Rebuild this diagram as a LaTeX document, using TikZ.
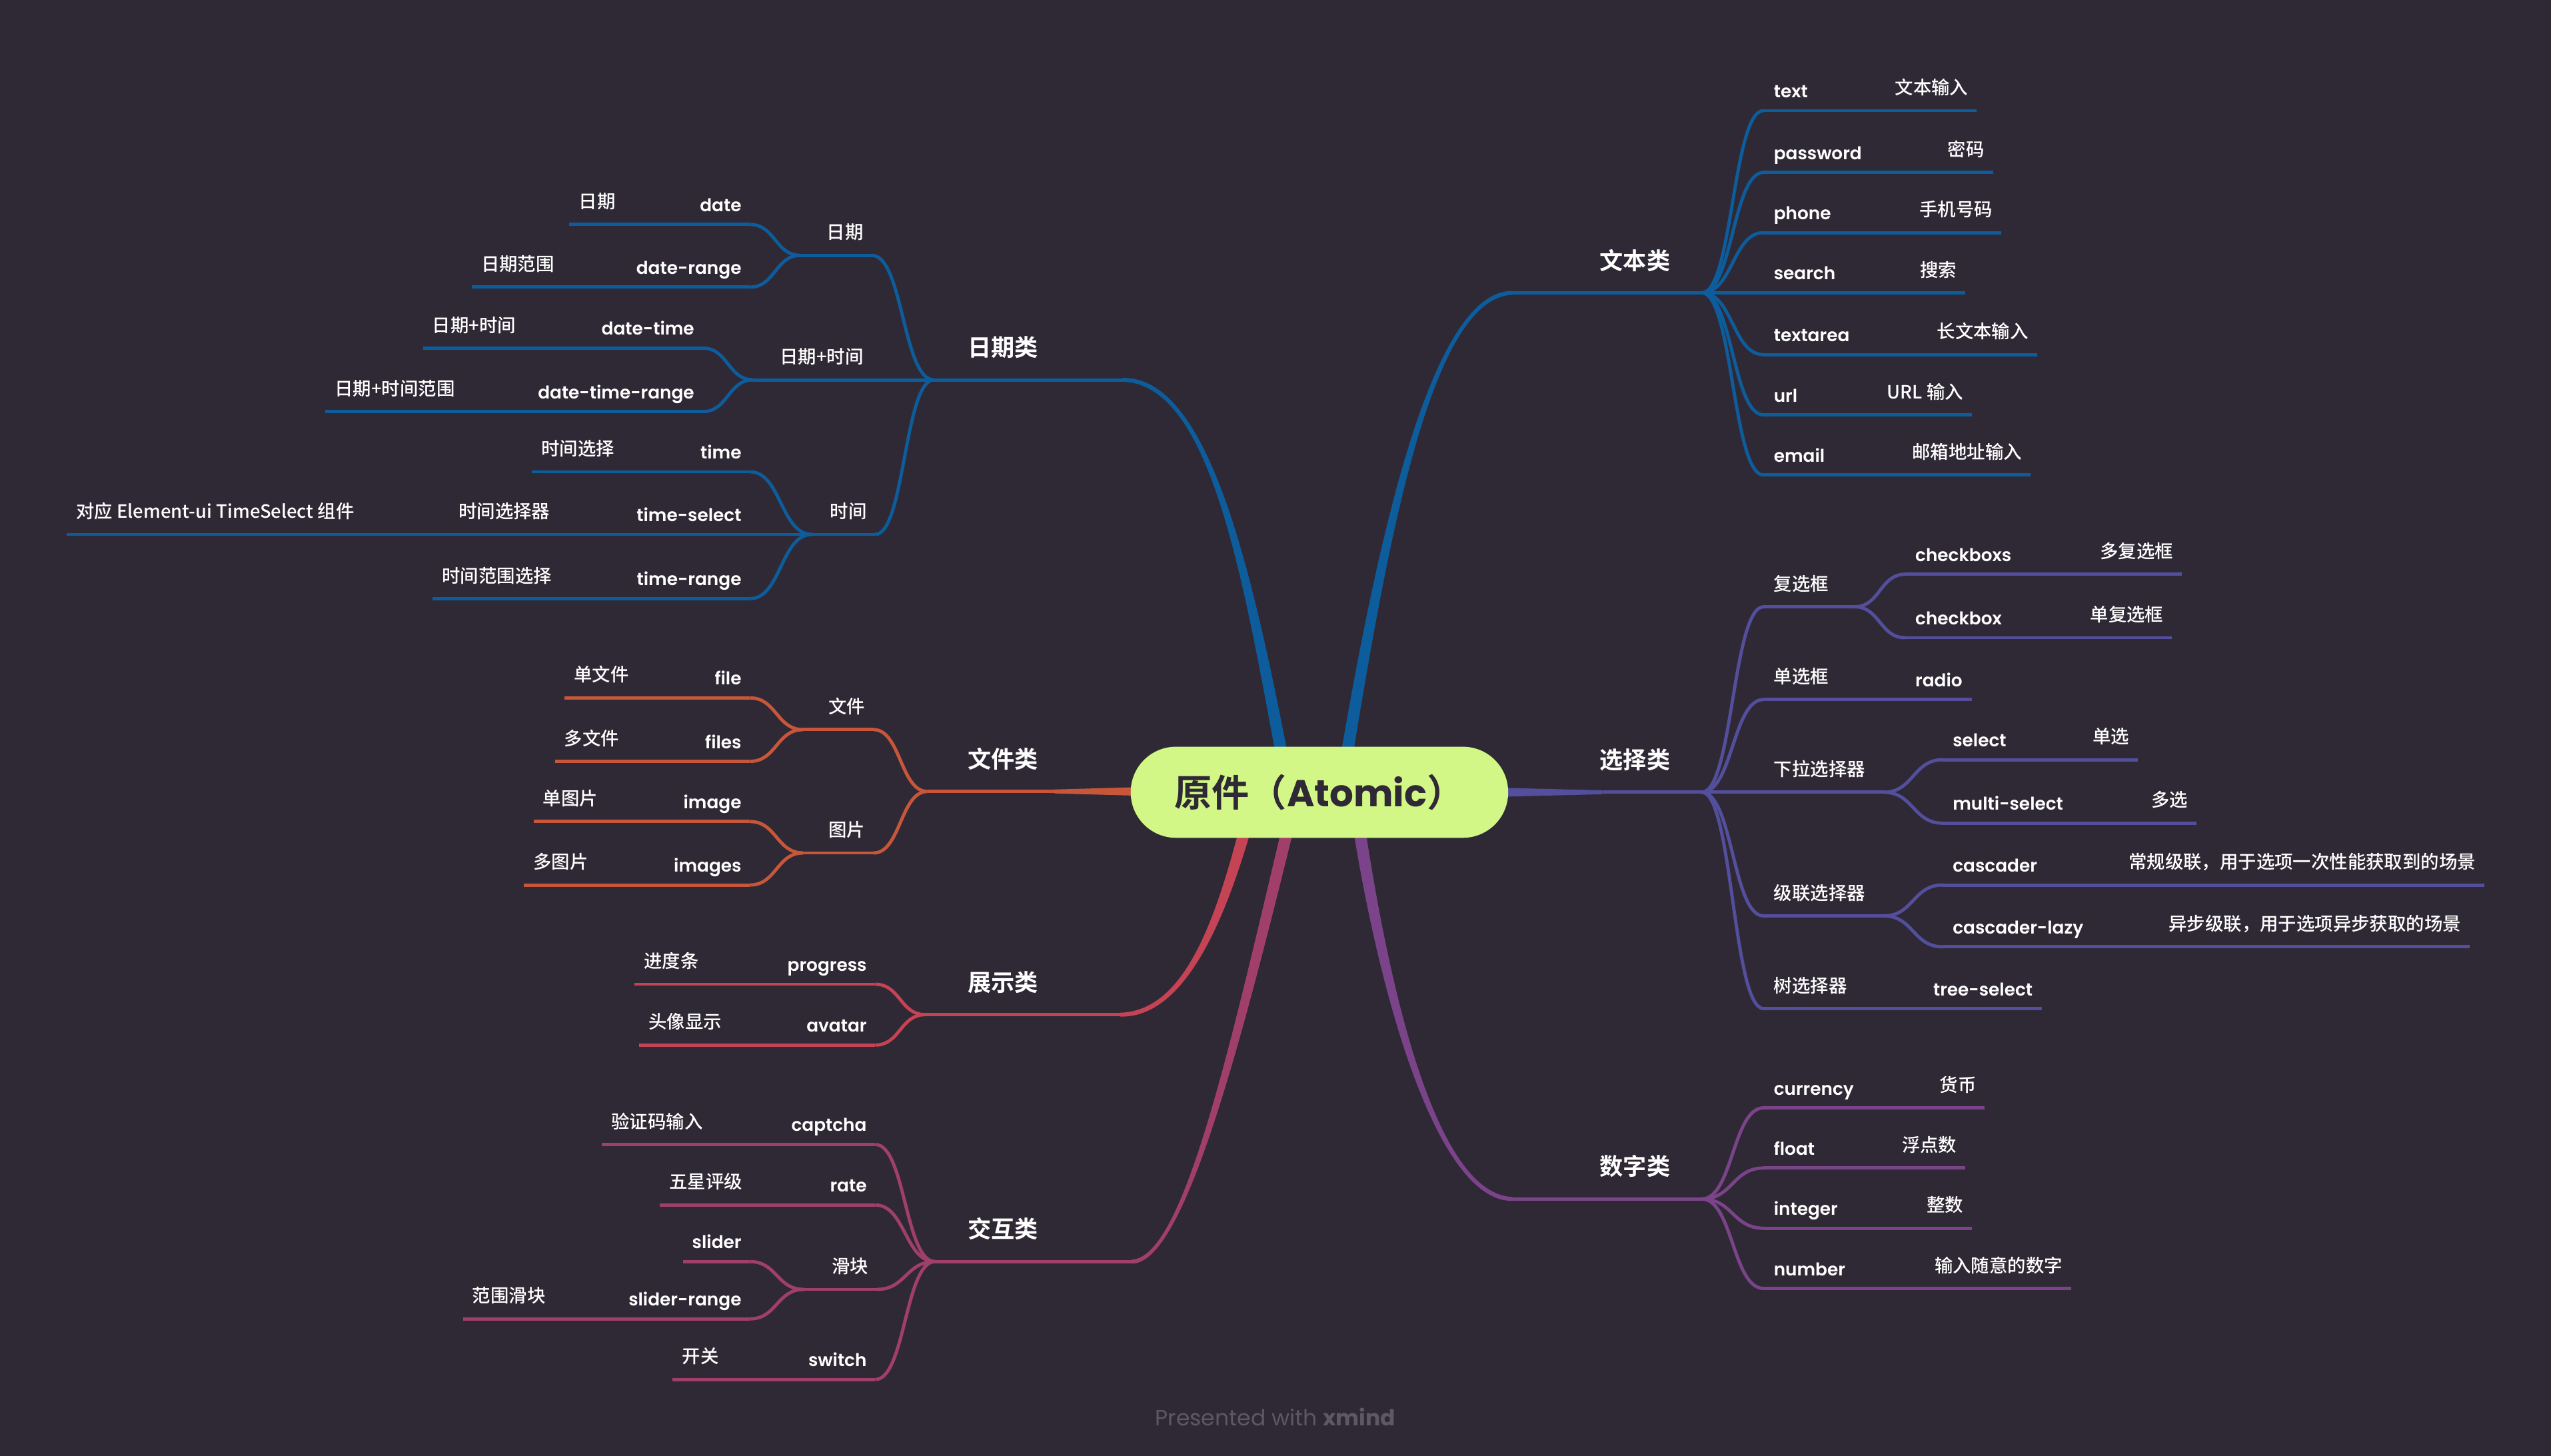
\documentclass[tikz,border=0pt]{standalone}
\usepackage{fontspec}
\usetikzlibrary{calc}

\newfontfamily\cjk{Noto Sans CJK SC Medium}
\newfontfamily\cjkbold{Noto Sans CJK SC Bold}
\newfontfamily\lat{Poppins SemiBold}
\newfontfamily\latreg{Poppins}

\definecolor{bgdark}{HTML}{2F2935}
\definecolor{limefill}{HTML}{D2F787}
\definecolor{footgrey}{HTML}{5D5866}
\definecolor{brBlue}{HTML}{0D5C9B}
\definecolor{brOrange}{HTML}{C8573A}
\definecolor{brRed}{HTML}{C44354}
\definecolor{brMagenta}{HTML}{A03F6A}
\definecolor{brIndigo}{HTML}{534F9D}
\definecolor{brPurple}{HTML}{7B4389}

\tikzstyle{twig}=[line width=1.4pt]
\tikzstyle{itemname}=[
    text=white,
    inner sep=0pt,
    font=\lat\fontsize{7.5}{9}\selectfont,
  ]
\tikzstyle{itemnote}=[
    text=white,
    inner sep=0pt,
    font=\cjk\fontsize{7.8}{9}\selectfont,
  ]
\tikzstyle{catlabel}=[
    text=white,
    inner sep=0pt,
    font=\cjkbold\fontsize{10}{12}\selectfont,
  ]
\tikzstyle{rootnode}=[
    fill=limefill,
    text=bgdark,
    inner sep=0pt,
    minimum width=5.664cm,
    minimum height=1.367cm,
    rounded corners=0.68cm,
    font=\fontsize{16}{19}\selectfont,
  ]

% S-shaped connector
\newcommand{\branchto}[2]{%
  \draw[twig] let \p1=(#1), \p2=(#2) in
    (\p1) .. controls ({(\x1+\x2)/2},\y1) and ({(\x1+\x2)/2},\y2) .. (\p2);}

% tapered main branch: category end, controls, hub, side
\newcommand{\trunk}[5]{%
  \fill ($(#1)+(0,-1.2)$) .. controls ($(#2)+(0,-2.2)$) and ($(#3)+({(#5)*3.3},0)$) .. ($(#4)+({(#5)*3.8},0)$)
    -- ($(#4)+({-(#5)*3.8},0)$) .. controls ($(#3)+({-(#5)*3.3},0)$) and ($(#2)+(0,2.2)$) .. ($(#1)+(0,1.2)$) -- cycle;}

% id, y, x left, x right, parent, label
\newcommand{\leftgroup}[6]{%
  \coordinate (#1-l) at (#3,#2);
  \coordinate (#1-r) at (#4,#2);
  \draw[twig] (#1-l) -- (#1-r);
  \branchto{#1-r}{#5}
  \node[itemnote, anchor=base east] (#1) at ($(#1-r)+(-5,-10)$) {#6};}
\newcommand{\rightgroup}[6]{%
  \coordinate (#1-l) at (#3,#2);
  \coordinate (#1-r) at (#4,#2);
  \branchto{#5}{#1-l}
  \draw[twig] (#1-l) -- (#1-r);
  \node[itemnote, anchor=base west] (#1) at ($(#1-l)+(6,-10)$) {#6};}

% id, y, x left, x right, parent, name, note
\newcommand{\leftleaf}[7]{%
  \coordinate (#1-l) at (#3,#2);
  \coordinate (#1-r) at (#4,#2);
  \draw[twig] (#1-l) -- (#1-r);
  \branchto{#1-r}{#5}
  \node[itemname, anchor=base east] (#1) at ($(#1-r)+(-5,-8)$) {#6};
  \node[itemnote, anchor=base west] (#1-t) at ($(#1-l)+(5.5,-10)$) {#7};}
\newcommand{\rightleaf}[7]{%
  \coordinate (#1-l) at (#3,#2);
  \coordinate (#1-r) at (#4,#2);
  \branchto{#5}{#1-l}
  \draw[twig] (#1-l) -- (#1-r);
  \node[itemname, anchor=base west] (#1) at ($(#1-l)+(6,-8)$) {#6};
  \node[itemnote, anchor=base east] (#1-t) at ($(#1-r)+(-5,-10)$) {#7};}

\begin{document}
\begin{tikzpicture}[x=0.024413cm, y=-0.024413cm]
  \useasboundingbox (0,0) rectangle (1568,895);
  \fill[bgdark] (0,0) rectangle (1568,895);

  % date
  \begin{scope}[brBlue]
    \coordinate (datecat-j) at (574,233.5);
    \coordinate (datecat-c) at (690,233.5);
    \draw[twig] (datecat-j) -- (datecat-c);
    \trunk{datecat-c}{745,233.5}{768,360}{790,475}{1}
    \node[catlabel, anchor=base] (datecat) at (616.5,219) {日期类};
    \leftgroup{ymd}{157}{492}{536}{datecat-j}{日期}
    \leftleaf{date}{138}{350}{461}{ymd-l}{date}{日期}
    \leftleaf{daterange}{176.5}{290}{461}{ymd-l}{date-range}{日期范围}
    \leftgroup{ymdhm}{233.5}{463}{536}{datecat-j}{日期+时间}
    \leftleaf{datetime}{214}{260}{432}{ymdhm-l}{date-time}{日期+时间}
    \leftleaf{datetimerange}{253}{200}{432}{ymdhm-l}{date-time-range}{日期+时间范围}
    \leftgroup{hm}{328.5}{499}{538}{datecat-j}{时间}
    \leftleaf{time}{290}{327}{461}{hm-l}{time}{时间选择}
    \leftleaf{timeselect}{328.5}{41}{461}{hm-l}{time-select}{对应 Element-ui TimeSelect 组件}
    \node[itemnote, anchor=base west] (timeselect-t2) at (281.6,318.5) {时间选择器};
    \leftleaf{timerange}{368}{266}{461}{hm-l}{time-range}{时间范围选择}
  \end{scope}

  % file
  \begin{scope}[brOrange]
    \coordinate (filecat-j) at (570,486.5);
    \coordinate (filecat-c) at (648,486.5);
    \coordinate (hub-file) at (720,486.5);
    \draw[twig] (filecat-j) -- (filecat-c);
    \fill ($(filecat-c)+(0,-1.2)$) -- ($(hub-file)+(0,-3.2)$) -- ($(hub-file)+(0,3.2)$) -- ($(filecat-c)+(0,1.2)$) -- cycle;
    \node[catlabel, anchor=base] (filecat) at (616.5,472) {文件类};
    \leftgroup{fileg}{448.5}{493.6}{537}{filecat-j}{文件}
    \leftleaf{file}{429}{347}{461}{fileg-l}{file}{单文件}
    \leftleaf{files}{468}{341}{461}{fileg-l}{files}{多文件}
    \leftgroup{imageg}{524.3}{493.6}{537}{filecat-j}{图片}
    \leftleaf{image}{505}{328}{461}{imageg-l}{image}{单图片}
    \leftleaf{images}{544}{322}{461}{imageg-l}{images}{多图片}
  \end{scope}

  % display
  \begin{scope}[brRed]
    \coordinate (showcat-j) at (568.6,623.7);
    \coordinate (showcat-c) at (688.5,623.7);
    \draw[twig] (showcat-j) -- (showcat-c);
    \trunk{showcat-c}{730,623.7}{752,560}{768,500}{-1}
    \node[catlabel, anchor=base] (showcat) at (616.5,609.2) {展示类};
    \leftleaf{progress}{605}{390}{538}{showcat-j}{progress}{进度条}
    \leftleaf{avatar}{642.4}{393}{538}{showcat-j}{avatar}{头像显示}
  \end{scope}

  % interaction
  \begin{scope}[brMagenta]
    \coordinate (actcat-j) at (574.7,775.5);
    \coordinate (actcat-c) at (695.5,775.5);
    \draw[twig] (actcat-j) -- (actcat-c);
    \trunk{actcat-c}{728,775.5}{760,640}{795,495}{-1}
    \node[catlabel, anchor=base] (actcat) at (616.5,761) {交互类};
    \leftleaf{captcha}{703.5}{370}{538}{actcat-j}{captcha}{验证码输入}
    \leftleaf{rate}{740.7}{405.6}{538}{actcat-j}{rate}{五星评级}
    \leftgroup{sliderg}{792.6}{494}{539}{actcat-j}{滑块}
    \coordinate (slider-l) at (420,775.5);
    \coordinate (slider-r) at (461,775.5);
    \draw[twig] (slider-l) -- (slider-r);
    \branchto{slider-r}{sliderg-l}
    \node[itemname, anchor=base east] (slider) at ($(slider-r)+(-5,-8)$) {slider};
    \leftleaf{sliderrange}{810.7}{284.6}{461}{sliderg-l}{slider-range}{范围滑块}
    \leftleaf{switch}{848}{413.5}{538}{actcat-j}{switch}{开关}
  \end{scope}

  % text
  \begin{scope}[brBlue]
    \coordinate (textcat-j) at (1046,180);
    \coordinate (textcat-c) at (930,180);
    \draw[twig] (textcat-c) -- (textcat-j);
    \trunk{textcat-c}{880,180}{850,330}{826,475}{-1}
    \node[catlabel, anchor=base] (textcat) at (1005,165.5) {文本类};
    \foreach \id/\ly/\lend/\lname/\lnote in {%
        text/68/1215/text/文本输入,
        password/106/1225/password/密码,
        phone/143/1230/phone/手机号码,
        search/180/1208/search/搜索,
        textarea/218/1252/textarea/长文本输入,
        url/255/1212/url/URL 输入,
        email/292/1248/email/邮箱地址输入} {%
      \rightleaf{\id}{\ly}{1084}{\lend}{textcat-j}{\lname}{\lnote}
    }
  \end{scope}

  % select
  \begin{scope}[brIndigo]
    \coordinate (selcat-j) at (1046,487);
    \coordinate (selcat-c) at (985,487);
    \coordinate (hub-sel) at (905,487);
    \draw[twig] (selcat-c) -- (selcat-j);
    \fill ($(selcat-c)+(0,-1.2)$) -- ($(hub-sel)+(0,-3.2)$) -- ($(hub-sel)+(0,3.2)$) -- ($(selcat-c)+(0,1.2)$) -- cycle;
    \node[catlabel, anchor=base] (selcat) at (1005,472.5) {选择类};
    \rightgroup{checkg}{373}{1084}{1140}{selcat-j}{复选框}
    \rightleaf{checkboxs}{353}{1171}{1341}{checkg-r}{checkboxs}{多复选框}
    \rightleaf{checkbox}{392}{1171}{1335}{checkg-r}{checkbox}{单复选框}
    \rightgroup{radiog}{430}{1084}{1140}{selcat-j}{单选框}
    \coordinate (radio-l) at (1171,430);
    \coordinate (radio-r) at (1212,430);
    \draw[twig] (radiog-r) -- (radio-r);
    \node[itemname, anchor=base west] (radio) at ($(radio-l)+(6,-8)$) {radio};
    \rightgroup{dropg}{487}{1084}{1158}{selcat-j}{下拉选择器}
    \rightleaf{select}{467}{1194}{1314}{dropg-r}{select}{单选}
    \rightleaf{multiselect}{506}{1194}{1350}{dropg-r}{multi-select}{多选}
    \rightgroup{cascg}{563}{1084}{1158}{selcat-j}{级联选择器}
    \rightleaf{cascader}{544}{1194}{1527}{cascg-r}{cascader}{常规级联，用于选项一次性能获取到的场景}
    \rightleaf{cascaderlazy}{582}{1194}{1518}{cascg-r}{cascader-lazy}{异步级联，用于选项异步获取的场景}
    \rightgroup{treeg}{620}{1084}{1150}{selcat-j}{树选择器}
    \coordinate (treeselect-l) at (1182,620);
    \coordinate (treeselect-r) at (1255,620);
    \draw[twig] (treeg-r) -- (treeselect-r);
    \node[itemname, anchor=base west] (treeselect) at ($(treeselect-l)+(6,-8)$) {tree-select};
  \end{scope}

  % number
  \begin{scope}[brPurple]
    \coordinate (numcat-j) at (1046,737);
    \coordinate (numcat-c) at (930,737);
    \draw[twig] (numcat-c) -- (numcat-j);
    \trunk{numcat-c}{885,737}{852,620}{834,500}{1}
    \node[catlabel, anchor=base] (numcat) at (1005,722.5) {数字类};
    \foreach \id/\ly/\lend/\lname/\lnote in {%
        currency/681/1220/currency/货币,
        float/718/1208/float/浮点数,
        integer/755/1212/integer/整数,
        number/792/1273/number/输入随意的数字} {%
      \rightleaf{\id}{\ly}{1084}{\lend}{numcat-j}{\lname}{\lnote}
    }
  \end{scope}

  \node[rootnode] (root) at (811,487) {{\cjkbold 原件（}{\latreg\bfseries Atomic}{\cjkbold ）}};

  \node[text=footgrey, font=\latreg\fontsize{9.4}{11}\selectfont] (credit) at (784,871) {Presented with \textbf{xmind}};
\end{tikzpicture}
\end{document}
